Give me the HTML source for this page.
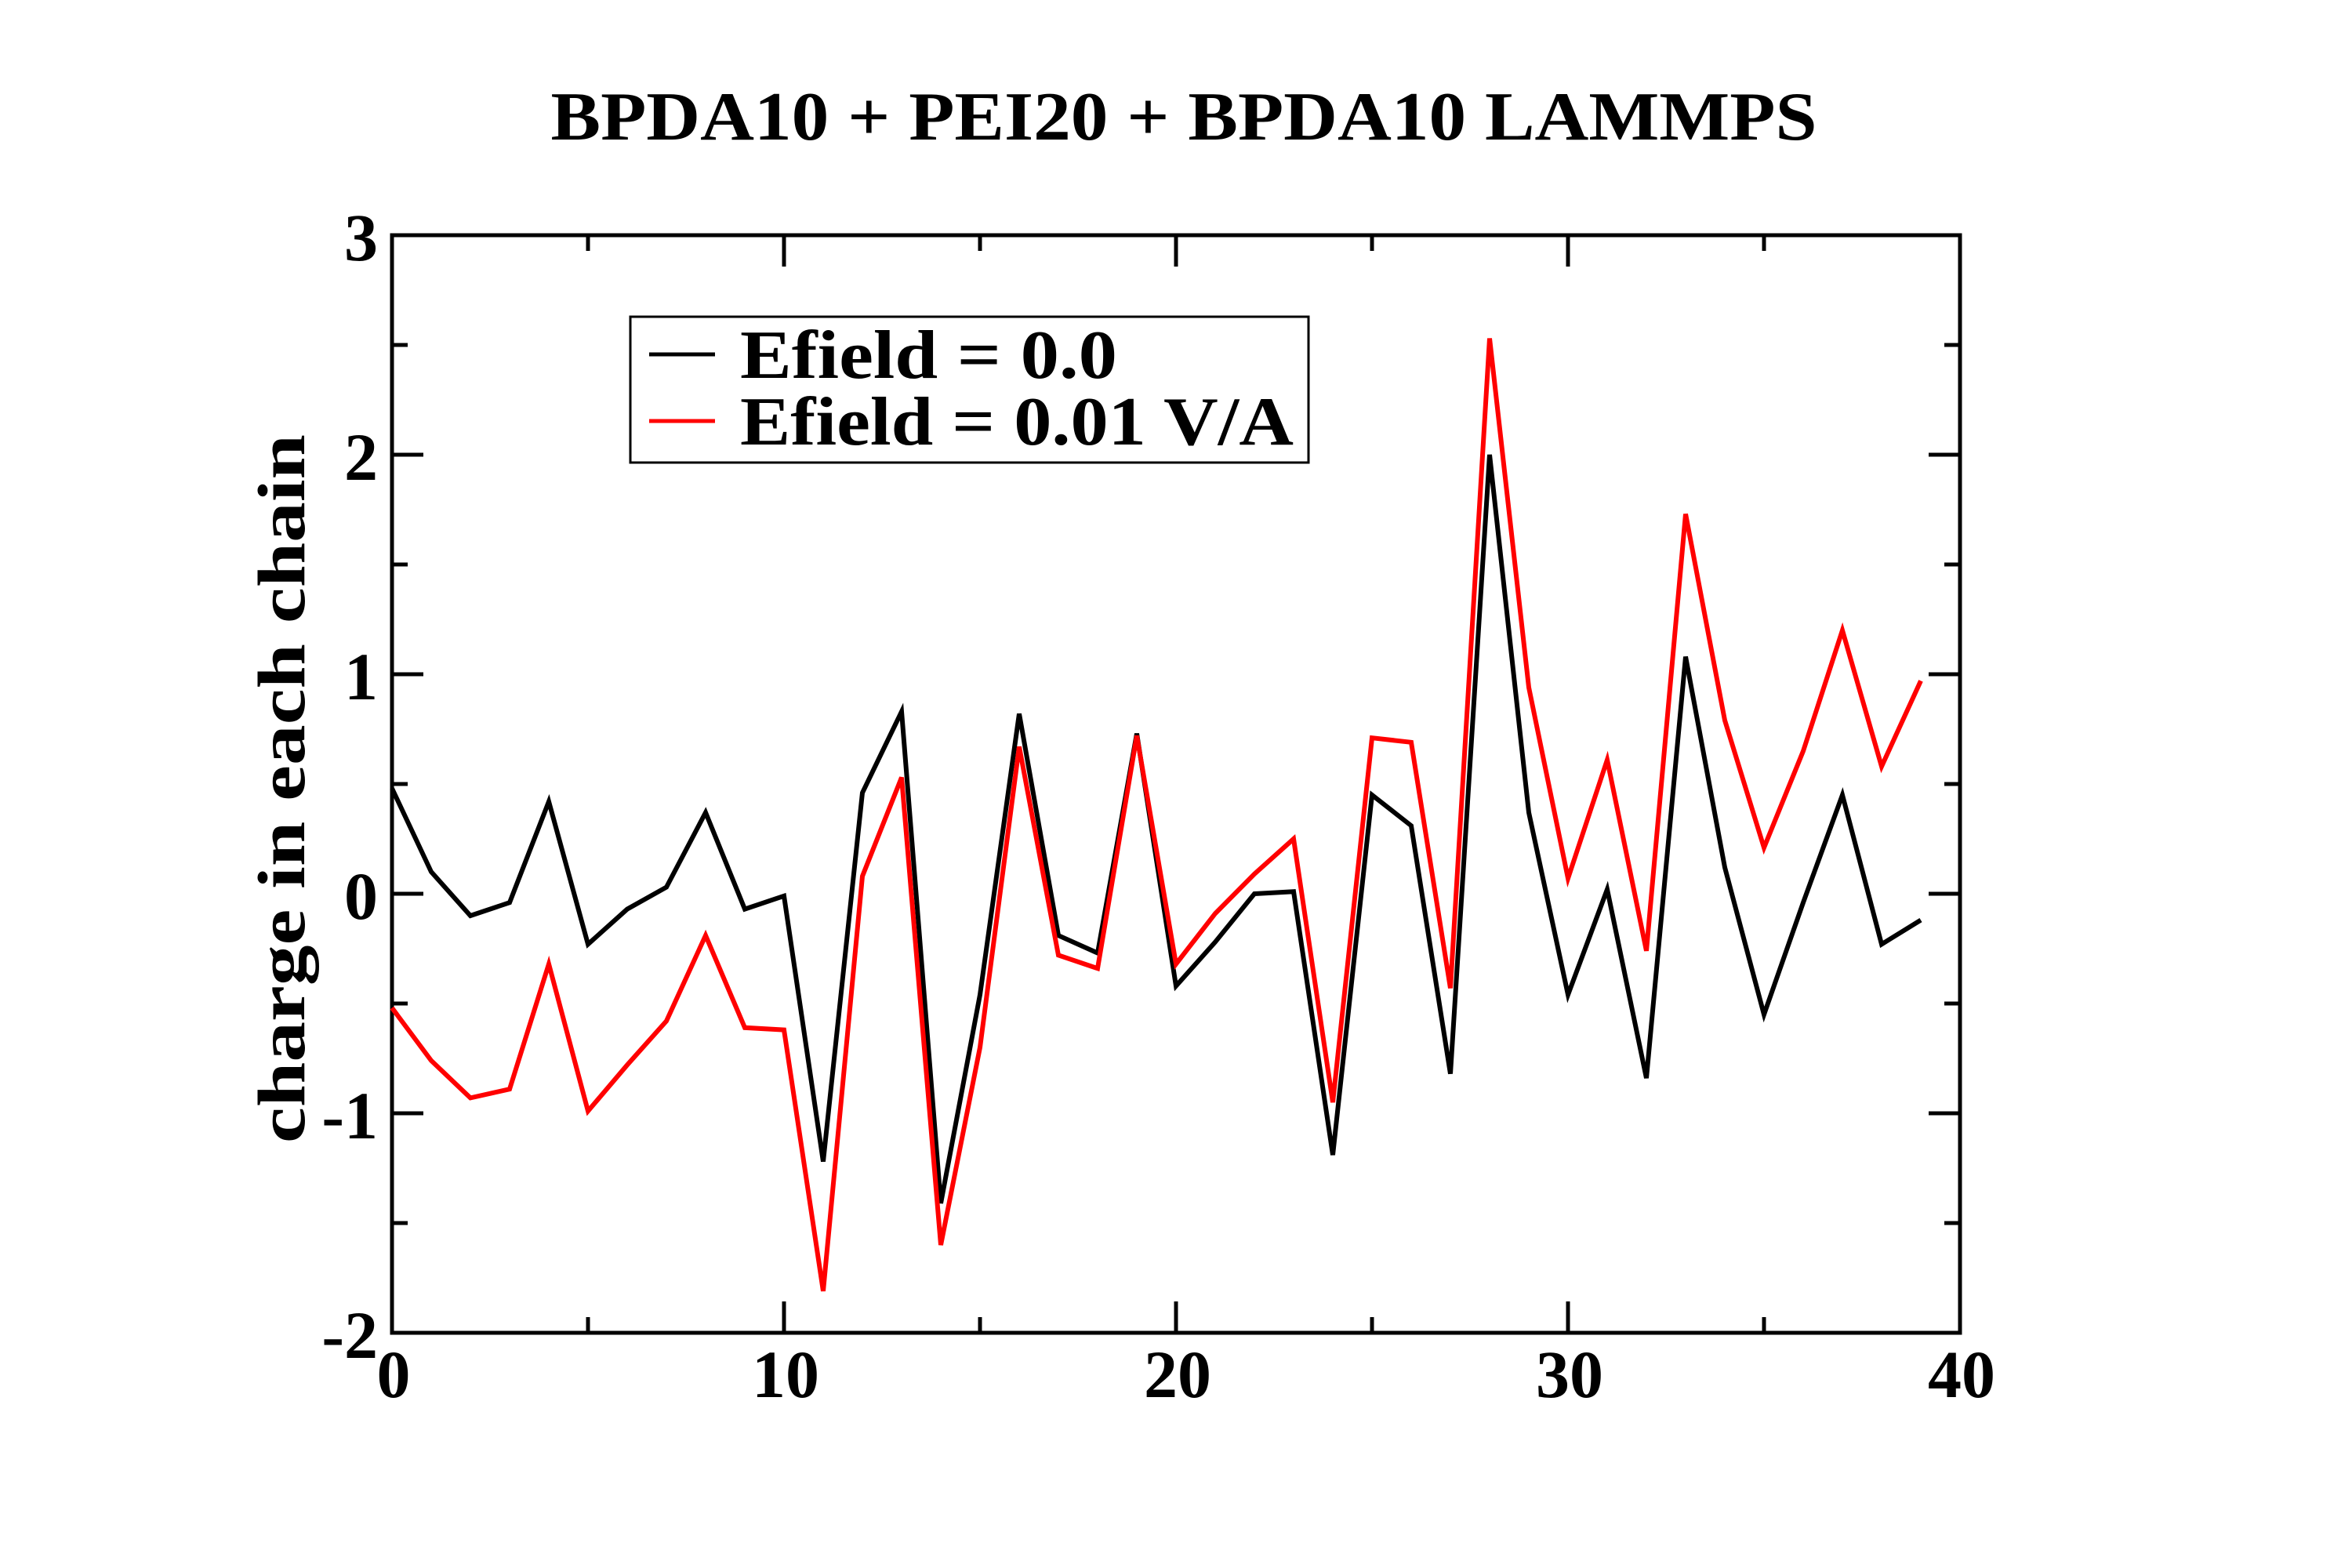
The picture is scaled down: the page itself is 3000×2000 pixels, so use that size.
<!DOCTYPE html>
<html><head><meta charset="utf-8"><style>
html,body{margin:0;padding:0;background:#fff}
svg{display:block}
text{font-family:"Liberation Serif",serif;font-weight:bold;fill:#000}
</style></head><body>
<svg id="chart" width="3000" height="2000" viewBox="0 0 3000 2000" xmlns="http://www.w3.org/2000/svg">
<text x="1510" y="178" font-size="88" text-anchor="middle" textLength="1615" lengthAdjust="spacingAndGlyphs">BPDA10 + PEI20 + BPDA10 LAMMPS</text>
<g id="axes"></g>
<g id="series"></g>
<text transform="translate(388,1006) rotate(-90)" font-size="86" text-anchor="middle" textLength="904" lengthAdjust="spacingAndGlyphs">charge in each chain</text>
<g>
<rect x="804" y="404" width="865" height="186" fill="#fff" stroke="#000" stroke-width="3"/>
<line x1="828" y1="452" x2="912" y2="452" stroke="#000" stroke-width="5"/>
<text x="944" y="482" font-size="88" textLength="481" lengthAdjust="spacingAndGlyphs">Efield = 0.0</text>
<line x1="828" y1="537" x2="912" y2="537" stroke="#f00" stroke-width="5"/>
<text x="944" y="567" font-size="88" textLength="706" lengthAdjust="spacingAndGlyphs">Efield = 0.01 V/A</text>
</g>
</svg>
<script>
const xIndex = [0,1,2,3,4,5,6,7,8,9,10,11,12,13,14,15,16,17,18,19,20,21,22,23,24,25,26,27,28,29,30,31,32,33,34,35,36,37,38,39];
const blackSeries = [0.48,0.1,-0.1,-0.04,0.42,-0.23,-0.07,0.03,0.37,-0.07,-0.01,-1.22,0.46,0.83,-1.41,-0.46,0.82,-0.19,-0.27,0.73,-0.42,-0.22,0.0,0.01,-1.19,0.45,0.31,-0.82,2.0,0.37,-0.46,0.02,-0.84,1.08,0.12,-0.55,-0.04,0.45,-0.23,-0.12];
const redSeries = [-0.52,-0.76,-0.93,-0.89,-0.32,-0.99,-0.78,-0.58,-0.19,-0.61,-0.62,-1.81,0.08,0.53,-1.6,-0.7,0.67,-0.28,-0.34,0.72,-0.32,-0.09,0.09,0.25,-0.95,0.71,0.69,-0.43,2.53,0.94,0.07,0.61,-0.26,1.73,0.79,0.21,0.65,1.2,0.58,0.97];
const xTicks = [0,10,20,30,40];
const yTicks = [-2,-1,0,1,2,3];

const L=500,R=2500,T=300,B=1700;
const xMin=0,xMax=40,yMin=-2,yMax=3;
function sx(v){return L+(v-xMin)/(xMax-xMin)*(R-L);}
function sy(v){return B-(v-yMin)/(yMax-yMin)*(B-T);}
const NS="http://www.w3.org/2000/svg";
const axes=document.getElementById('axes');
function mk(tag,attrs,parent){const e=document.createElementNS(NS,tag);for(const k in attrs)e.setAttribute(k,attrs[k]);parent.appendChild(e);return e;}

for(let v=xMin;v<=xMax;v+=5){
  const major=(v%10===0);const len=major?40:20;const x=sx(v);
  const t1=mk('line',{x1:x,y1:B,x2:x,y2:B-len,stroke:'#000','stroke-width':5},axes);
  
  
  const t2=mk('line',{x1:x,y1:T,x2:x,y2:T+len,stroke:'#000','stroke-width':5},axes);
  
  
}
for(let v=yMin;v<=yMax+1e-9;v+=0.5){
  const major=Math.abs(v-Math.round(v))<1e-9;const len=major?40:20;const y=sy(v);
  const t1=mk('line',{x1:L,y1:y,x2:L+len,y2:y,stroke:'#000','stroke-width':5},axes);
  
  
  const t2=mk('line',{x1:R,y1:y,x2:R-len,y2:y,stroke:'#000','stroke-width':5},axes);
  
  
}
xTicks.forEach(v=>{
  const t=mk('text',{x:sx(v)+2,y:1782,'font-size':86,'text-anchor':'middle'},axes);
  t.textContent=String(v);
  
  
});
yTicks.forEach(v=>{
  const t=mk('text',{x:482,y:sy(v)+32,'font-size':86,'text-anchor':'end'},axes);
  t.textContent=String(v);
  
  
});
const frame=mk('rect',{x:L,y:T,width:R-L,height:B-T,fill:'none',stroke:'#000','stroke-width':5},axes);



const sg=document.getElementById('series');
function drawLine(vals,color,name){
  const pts=vals.map((v,i)=>sx(xIndex[i])+','+sy(v)).join(' ');
  const p=mk('polyline',{points:pts,fill:'none',stroke:color,'stroke-width':6,'stroke-linejoin':'miter'},sg);
  
  
}
drawLine(blackSeries,'#000','series-efield-0');
drawLine(redSeries,'#f00','series-efield-001');
</script>
</body></html>
